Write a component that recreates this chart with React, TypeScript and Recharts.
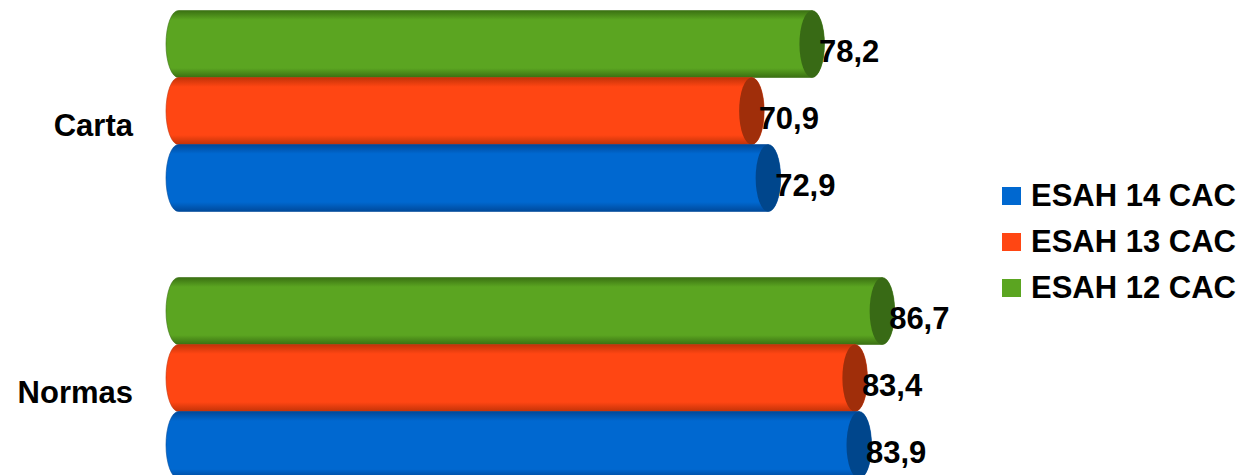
import React from "react";
import { BarChart, Bar, XAxis, YAxis, LabelList } from "recharts";

const categories = ["Carta", "Normas"];
const esah12 = [78.2, 86.7];
const esah13 = [70.9, 83.4];
const esah14 = [72.9, 83.9];

const series = [
  { key: "esah12", name: "ESAH 12 CAC", values: esah12, body: "#5ba521", edge: "#3a7012", cap: "#386a15" },
  { key: "esah13", name: "ESAH 13 CAC", values: esah13, body: "#ff4613", edge: "#c23208", cap: "#a02e0a" },
  { key: "esah14", name: "ESAH 14 CAC", values: esah14, body: "#0068d0", edge: "#00499a", cap: "#00468c" },
];
const legendOrder = ["esah14", "esah13", "esah12"];

const data = categories.map((name, i) => {
  const row: any = { name };
  series.forEach((s) => (row[s.key] = s.values[i]));
  return row;
});

const FONT = "'Liberation Sans', Arial, sans-serif";

const Cylinder = (props: any) => {
  const { x, y, width, height, body, edge, cap, gid } = props;
  if (width == null || height == null) return null;
  const rx = 12.5;
  const ry = height / 2;
  const x0 = x;
  const x1 = x + width;
  const d = `M${x0 + rx},${y} L${x1},${y} A${rx},${ry} 0 0 1 ${x1},${y + height} L${x0 + rx},${y + height} A${rx},${ry} 0 0 1 ${x0 + rx},${y} Z`;
  const id = `g-${gid}-${props.index}`;
  return (
    <g>
      <defs>
        <linearGradient id={id} x1="0" y1="0" x2="0" y2="1">
          <stop offset="0%" stopColor={edge} />
          <stop offset="14%" stopColor={body} />
          <stop offset="50%" stopColor={body} />
          <stop offset="86%" stopColor={body} />
          <stop offset="100%" stopColor={edge} />
        </linearGradient>
      </defs>
      <path d={d} fill={`url(#${id})`} stroke={edge} strokeOpacity={0.6} strokeWidth={1} />
      <ellipse cx={x1} cy={y + ry} rx={rx} ry={ry} fill={cap} />
    </g>
  );
};

const ValueLabel = (props: any) => {
  const { x, y, width, height, value } = props;
  return (
    <text
      x={x + width + 7}
      y={y + height / 2 + 7}
      dy="0.36em"
      fontFamily={FONT}
      fontWeight="bold"
      fontSize={31}
      fill="#000"
    >
      {String(value).replace(".", ",")}
    </text>
  );
};

const CategoryTick = (props: any) => {
  const { x, y, payload } = props;
  return (
    <text
      x={x}
      y={y + 13}
      dy="0.36em"
      textAnchor="end"
      fontFamily={FONT}
      fontWeight="bold"
      fontSize={31}
      fill="#000"
    >
      {payload.value}
    </text>
  );
};

export default function App() {
  return (
    <div
      style={{
        position: "absolute",
        left: 0,
        top: 0,
        width: 1243,
        height: 475,
        overflow: "hidden",
        background: "#fff",
      }}
    >
      <div style={{ position: "absolute", left: 0, top: -22 }}>
        <BarChart
          width={1243}
          height={534}
          data={data}
          layout="vertical"
          margin={{ top: 0, right: 251, bottom: 0, left: 0 }}
          barCategoryGap={32.5}
          barGap={0}
        >
          <XAxis type="number" domain={[0, 100]} hide />
          <YAxis
            type="category"
            dataKey="name"
            width={166}
            axisLine={false}
            tickLine={false}
            tickSize={0}
            tickMargin={33}
            tick={<CategoryTick />}
          />
          {series.map((s) => (
            <Bar
              key={s.key}
              dataKey={s.key}
              name={s.name}
              fill={s.body}
              isAnimationActive={false}
              shape={(p: any) => <Cylinder {...p} body={s.body} edge={s.edge} cap={s.cap} gid={s.key} />}
            >
              <LabelList dataKey={s.key} content={<ValueLabel />} />
            </Bar>
          ))}
        </BarChart>
      </div>
      <div style={{ position: "absolute", left: 1002, top: 173 }}>
        {legendOrder.map((k) => {
          const s = series.find((x) => x.key === k)!;
          return (
            <div
              key={k}
              style={{ display: "flex", alignItems: "center", height: 46 }}
            >
              <div style={{ width: 19, height: 18, background: s.body, marginRight: 10 }} />
              <span
                style={{
                  fontFamily: FONT,
                  fontWeight: "bold",
                  fontSize: 31,
                  color: "#000",
                  whiteSpace: "nowrap",
                  lineHeight: "46px",
                }}
              >
                {s.name}
              </span>
            </div>
          );
        })}
      </div>
    </div>
  );
}
